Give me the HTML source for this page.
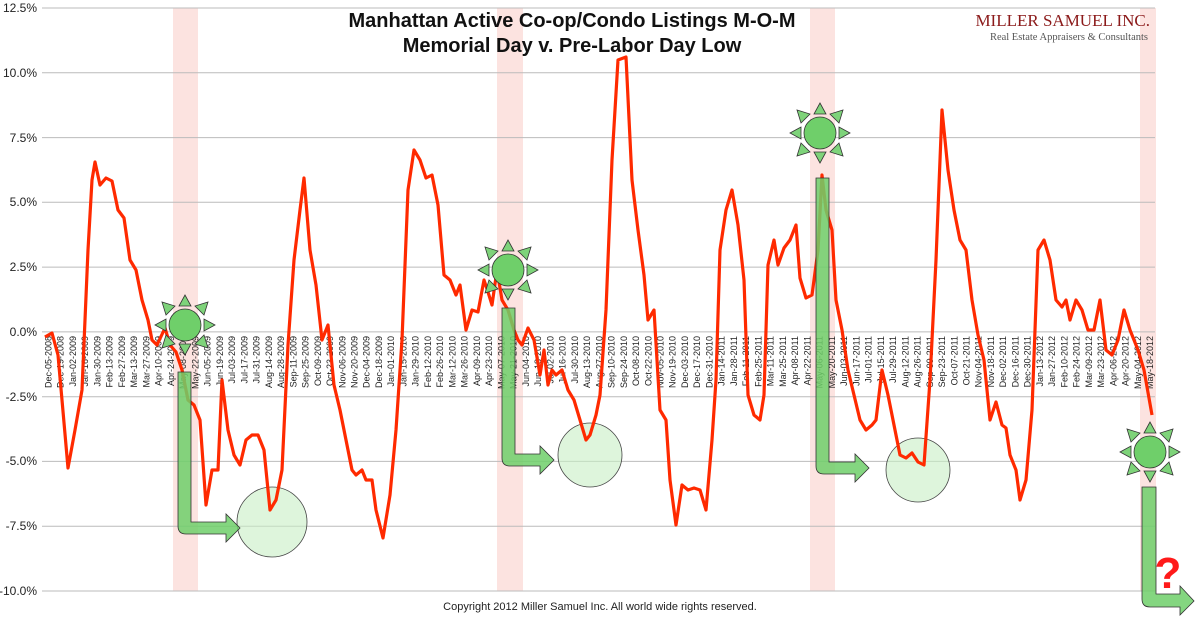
<!DOCTYPE html>
<html><head><meta charset="utf-8"><style>
body{margin:0;background:#fff;}
svg{display:block;font-family:"Liberation Sans",sans-serif;}
</style></head><body>
<svg width="1200" height="625" viewBox="0 0 1200 625" xmlns="http://www.w3.org/2000/svg">
<defs>
<g id="sun">
<g fill="#7ed37a" stroke="#333" stroke-width="0.8">
<polygon points="0,-30 -6,-19 6,-19"/><polygon points="0,30 -6,19 6,19"/>
<polygon points="-30,0 -19,-6 -19,6"/><polygon points="30,0 19,-6 19,6"/>
<polygon points="-23,-23 -19,-10 -10,-19"/><polygon points="23,-23 19,-10 10,-19"/>
<polygon points="-23,23 -19,10 -10,19"/><polygon points="23,23 19,10 10,19"/>
<circle r="16" fill="#6fcf6a"/>
</g></g>
</defs>
<g fill="#fbd9d6" opacity="0.75">
<rect x="173" y="8" width="25" height="583"/><rect x="497" y="8" width="26" height="583"/>
<rect x="810" y="8" width="25" height="583"/><rect x="1140" y="8" width="16" height="583"/>
</g>
<g stroke="#bbb" stroke-width="1">
<line x1="42" x2="1155" y1="8" y2="8"/><line x1="42" x2="1155" y1="72.8" y2="72.8"/>
<line x1="42" x2="1155" y1="137.6" y2="137.6"/><line x1="42" x2="1155" y1="202.3" y2="202.3"/>
<line x1="42" x2="1155" y1="267.1" y2="267.1"/><line x1="42" x2="1155" y1="331.9" y2="331.9"/>
<line x1="42" x2="1155" y1="396.7" y2="396.7"/><line x1="42" x2="1155" y1="461.4" y2="461.4"/>
<line x1="42" x2="1155" y1="526.2" y2="526.2"/><line x1="42" x2="1155" y1="591" y2="591"/>
</g>
<g font-size="12" fill="#222" text-anchor="end">
<text x="37" y="12">12.5%</text><text x="37" y="77">10.0%</text><text x="37" y="142">7.5%</text>
<text x="37" y="206">5.0%</text><text x="37" y="271">2.5%</text><text x="37" y="336">0.0%</text>
<text x="37" y="401">-2.5%</text><text x="37" y="465">-5.0%</text><text x="37" y="530">-7.5%</text>
<text x="37" y="595">-10.0%</text>
</g>
<g id="xl" font-size="9" fill="#222" text-anchor="end"></g>
<g fill="#c8eec4" fill-opacity="0.6" stroke="#444" stroke-width="0.8">
<circle cx="272" cy="522" r="35"/><circle cx="590" cy="455" r="32"/><circle cx="918" cy="470" r="32"/>
</g>
<polyline fill="none" stroke="#ff2a00" stroke-width="3.2" stroke-linejoin="round" points="45,337 52,333 58,355 62,400 68,468 75,430 82,390 88,250 92,180 95,162 100,185 106,178 112,181 118,210 124,218 130,260 136,270 142,300 148,320 152,340 157,345 165,328 170,345 176,352 182,370 188,400 194,405 200,420 206,505 212,470 218,470 222,380 228,430 234,455 240,465 246,440 252,435 258,435 264,450 270,510 276,500 282,470 288,345 294,260 300,210 304,178 310,250 316,285 322,340 328,325 334,385 340,410 346,440 352,470 356,475 362,470 366,480 372,480 376,510 383,538 390,495 396,430 402,340 408,190 414,150 420,160 426,178 432,175 438,205 444,275 450,280 456,295 460,285 466,330 472,310 478,312 484,280 488,292 492,305 497,270 502,300 508,310 514,330 518,340 522,345 528,328 534,340 540,375 544,350 548,385 552,370 556,375 562,370 568,390 574,400 580,420 586,440 590,435 596,415 600,395 606,310 612,160 618,60 626,57 632,180 638,230 644,275 648,320 654,310 660,410 666,420 670,480 676,525 682,485 688,490 694,488 700,490 706,510 712,440 716,380 720,250 726,210 732,190 738,225 744,280 748,395 754,415 760,420 764,395 768,265 774,240 778,265 784,248 790,240 796,225 800,278 806,298 812,295 818,250 822,175 826,210 832,230 836,300 842,330 848,370 854,395 860,420 866,430 872,425 876,420 882,370 888,395 894,425 900,455 906,458 912,453 918,462 924,465 930,380 936,260 942,110 948,170 954,210 960,240 966,250 972,300 978,335 984,360 990,420 996,402 1002,425 1006,428 1010,455 1016,470 1020,500 1026,480 1032,410 1038,250 1044,240 1050,260 1056,300 1062,307 1066,300 1070,320 1076,300 1082,310 1088,330 1094,330 1100,300 1106,350 1112,355 1118,340 1124,310 1130,330 1138,350 1144,370 1152,415"/>
<g fill="#6fcf6a" fill-opacity="0.85" stroke="#333" stroke-width="0.8">
<path d="M178,372 L191,372 L191,522 L226,522 L226,514 L240,528 L226,542 L226,534 L186,534 Q178,534 178,526 Z"/>
<path d="M502,308 L515,308 L515,454 L540,454 L540,446 L554,460 L540,474 L540,466 L510,466 Q502,466 502,458 Z"/>
<path d="M816,178 L829,178 L829,462 L855,462 L855,454 L869,468 L855,482 L855,474 L824,474 Q816,474 816,466 Z"/>
<path d="M1142,487 L1156,487 L1156,594 L1180,594 L1180,586 L1194,601 L1180,615 L1180,607 L1150,607 Q1142,607 1142,599 Z"/>
</g>
<use href="#sun" x="185" y="325"/><use href="#sun" x="508" y="270"/>
<use href="#sun" x="820" y="133"/><use href="#sun" x="1150" y="452"/>
<text x="1168" y="588" font-size="44" font-weight="bold" fill="#ff1a1a" text-anchor="middle">?</text>
<g font-weight="bold" font-size="20" text-anchor="middle" fill="#111">
<text x="572" y="27">Manhattan Active Co-op/Condo Listings M-O-M</text>
<text x="572" y="52">Memorial Day v. Pre-Labor Day Low</text>
</g>
<text x="1150" y="26" font-family="Liberation Serif,serif" font-size="17" fill="#8b1a1a" text-anchor="end">MILLER SAMUEL INC.</text>
<text x="1148" y="40" font-family="Liberation Serif,serif" font-size="10.5" fill="#555" text-anchor="end">Real Estate Appraisers &amp; Consultants</text>
<text x="600" y="610" font-size="11" fill="#222" text-anchor="middle">Copyright 2012 Miller Samuel Inc.  All world wide rights reserved.</text>
</svg>
<script>
(function(){
var g=document.getElementById('xl');var m=['Jan','Feb','Mar','Apr','May','Jun','Jul','Aug','Sep','Oct','Nov','Dec'];
var d=new Date(Date.UTC(2008,11,5));var s='';
for(var i=0;i<=90;i++){var x=48+i*12.24;var dd=d.getUTCDate();
var t=m[d.getUTCMonth()]+'-'+(dd<10?'0':'')+dd+'-'+d.getUTCFullYear();
s+='<text transform="translate('+(x+3.5)+',336) rotate(-90)">'+t+'</text>';
d=new Date(d.getTime()+14*86400000);}
g.innerHTML=s;})();
</script>
</body></html>
